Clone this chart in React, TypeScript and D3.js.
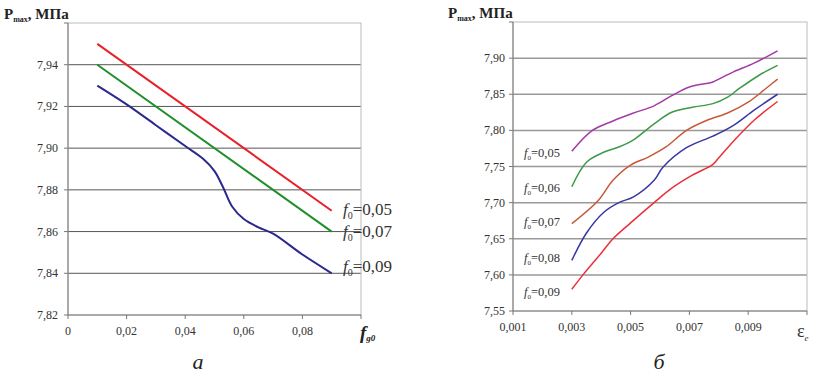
import React from "react";
import * as d3 from "d3";

// Left chart (a): Pmax vs f_g0
const leftXTicks = [0, 0.02, 0.04, 0.06, 0.08, 0.1];
const leftXTickLabels = ["0", "0,02", "0,04", "0,06", "0,08", ""];
const leftYTicks = [7.82, 7.84, 7.86, 7.88, 7.9, 7.92, 7.94, 7.96];
const leftYTickLabels = ["7,82", "7,84", "7,86", "7,88", "7,90", "7,92", "7,94", ""];
const leftRed: [number, number][] = [[0.01, 7.95], [0.09, 7.87]];
const leftGreen: [number, number][] = [[0.01, 7.94], [0.09, 7.86]];
const leftBlue: [number, number][] = [
  [0.01, 7.93], [0.02, 7.921], [0.03, 7.911], [0.04, 7.901], [0.046, 7.895],
  [0.05, 7.889], [0.053, 7.881], [0.056, 7.872], [0.06, 7.866], [0.065, 7.862],
  [0.07, 7.859], [0.08, 7.849], [0.09, 7.84],
];
const leftLabels = ["=0,05", "=0,07", "=0,09"];

// Right chart (б): Pmax vs ε_e
const rightXTicks = [0.001, 0.003, 0.005, 0.007, 0.009, 0.011];
const rightXTickLabels = ["0,001", "0,003", "0,005", "0,007", "0,009", ""];
const rightYTicks = [7.55, 7.6, 7.65, 7.7, 7.75, 7.8, 7.85, 7.9, 7.95];
const rightYTickLabels = ["7,55", "7,60", "7,65", "7,70", "7,75", "7,80", "7,85", "7,90", ""];
const rightPurple: [number, number][] = [
  [0.003, 7.771], [0.0037, 7.8], [0.0044, 7.813], [0.0051, 7.824], [0.0058, 7.834],
  [0.0064, 7.848], [0.007, 7.86], [0.0078, 7.867], [0.008, 7.871], [0.0085, 7.881],
  [0.0092, 7.893], [0.01, 7.91],
];
const rightGreen: [number, number][] = [
  [0.003, 7.722], [0.0035, 7.756], [0.0041, 7.77], [0.0046, 7.777], [0.0051, 7.787],
  [0.0058, 7.809], [0.0064, 7.825], [0.0071, 7.832], [0.0078, 7.837], [0.0083, 7.846],
  [0.0087, 7.858], [0.0094, 7.877], [0.01, 7.89],
];
const rightOrange: [number, number][] = [
  [0.003, 7.671], [0.0039, 7.703], [0.0044, 7.731], [0.005, 7.752], [0.0056, 7.763],
  [0.0062, 7.777], [0.0069, 7.8], [0.0076, 7.814], [0.0083, 7.824], [0.009, 7.839],
  [0.0096, 7.858], [0.01, 7.871],
];
const rightBlue: [number, number][] = [
  [0.003, 7.62], [0.0035, 7.658], [0.0041, 7.687], [0.0046, 7.7], [0.0051, 7.708],
  [0.0058, 7.731], [0.0061, 7.749], [0.0069, 7.776], [0.0078, 7.792], [0.0085, 7.807],
  [0.0092, 7.828], [0.01, 7.85],
];
const rightRed: [number, number][] = [
  [0.003, 7.58], [0.0034, 7.601], [0.004, 7.63], [0.0044, 7.65], [0.005, 7.672],
  [0.0058, 7.7], [0.0064, 7.72], [0.0071, 7.738], [0.0078, 7.753], [0.008, 7.762],
  [0.0085, 7.785], [0.0092, 7.814], [0.01, 7.84],
];
const rightLabels = ["=0,05", "=0,06", "=0,07", "=0,08", "=0,09"];

const serif = "'Times New Roman', 'Liberation Serif', Tinos, 'DejaVu Serif', serif";

export default function App() {
  const lx = d3.scaleLinear().domain([0, 0.1]).range([68, 361]);
  const ly = d3.scaleLinear().domain([7.82, 7.96]).range([315, 23]);
  const rx = d3.scaleLinear().domain([0.001, 0.011]).range([513, 807]);
  const ry = d3.scaleLinear().domain([7.55, 7.95]).range([311, 22]);

  const lLine = d3.line<[number, number]>().x((d) => lx(d[0])).y((d) => ly(d[1])).curve(d3.curveCatmullRom.alpha(0.5));
  const rLine = d3.line<[number, number]>().x((d) => rx(d[0])).y((d) => ry(d[1])).curve(d3.curveCatmullRom.alpha(0.5));

  const leftSeries = [
    { data: leftRed, color: "#e8202a" },
    { data: leftGreen, color: "#1f8f2a" },
    { data: leftBlue, color: "#2b2a8c" },
  ];
  const rightSeries = [
    { data: rightPurple, color: "#a23aa8" },
    { data: rightGreen, color: "#3c9a48" },
    { data: rightOrange, color: "#c8583a" },
    { data: rightBlue, color: "#3838a0" },
    { data: rightRed, color: "#e8303a" },
  ];
  const leftLabelY = [215, 237, 272];
  const rightLabelY = [157, 192, 226, 262, 296];

  return (
    <svg width={815} height={377} style={{ position: "absolute", left: 0, top: 0, background: "#fff" }}>
      {/* ---------- Left chart ---------- */}
      <g>
        {leftYTicks.slice(1, -1).map((t) => (
          <line key={t} x1={lx(0)} x2={lx(0.1)} y1={ly(t)} y2={ly(t)} stroke="#555" strokeWidth={1} />
        ))}
        <rect x={lx(0)} y={ly(7.96)} width={lx(0.1) - lx(0)} height={ly(7.82) - ly(7.96)} fill="none" stroke="#bbb" strokeWidth={1} />
        <line x1={lx(0)} x2={lx(0)} y1={ly(7.96)} y2={ly(7.82)} stroke="#777" />
        <line x1={lx(0)} x2={lx(0.1)} y1={ly(7.82)} y2={ly(7.82)} stroke="#777" />
        {leftYTicks.map((t) => (
          <line key={"yt" + t} x1={lx(0) - 4} x2={lx(0)} y1={ly(t)} y2={ly(t)} stroke="#777" />
        ))}
        {leftXTicks.map((t) => (
          <line key={"xt" + t} x1={lx(t)} x2={lx(t)} y1={ly(7.82)} y2={ly(7.82) + 4} stroke="#777" />
        ))}
        {leftYTicks.map((t, i) => (
          <text key={"yl" + t} x={lx(0) - 10} y={ly(t) + 4} textAnchor="end" fontFamily={serif} fontSize={12} fill="#333">
            {leftYTickLabels[i]}
          </text>
        ))}
        {leftXTicks.map((t, i) => (
          <text key={"xl" + t} x={lx(t)} y={ly(7.82) + 20} textAnchor="middle" fontFamily={serif} fontSize={12} fill="#333">
            {leftXTickLabels[i]}
          </text>
        ))}
        {leftSeries.map((s, i) => (
          <path key={"ls" + i} d={lLine(s.data) || ""} fill="none" stroke={s.color} strokeWidth={2} />
        ))}
        {leftLabels.map((l, i) => (
          <text key={"ll" + i} x={343} y={leftLabelY[i]} fontFamily={serif} fontSize={17} fill="#333">
            <tspan fontStyle="italic">f</tspan>
            <tspan fontSize={10} dy={4}>0</tspan>
            <tspan dy={-4}>{l}</tspan>
          </text>
        ))}
        <text x={4} y={19} fontFamily={serif} fontSize={15} fontWeight="bold" fill="#222">
          P<tspan fontSize={8} dy={3}>max</tspan>
          <tspan dy={-3}>, МПа</tspan>
        </text>
        <text x={360} y={339} fontFamily={serif} fontSize={19} fontWeight="bold" fontStyle="italic" fill="#222">
          f<tspan fontSize={9} dy={2}>g0</tspan>
        </text>
        <text x={198} y={369} textAnchor="middle" fontFamily={serif} fontSize={22} fontStyle="italic" fill="#222">
          а
        </text>
      </g>

      {/* ---------- Right chart ---------- */}
      <g>
        {rightYTicks.slice(1, -1).map((t) => (
          <line key={t} x1={rx(0.001)} x2={rx(0.011)} y1={ry(t)} y2={ry(t)} stroke="#999" strokeWidth={1.5} />
        ))}
        <rect x={rx(0.001)} y={ry(7.95)} width={rx(0.011) - rx(0.001)} height={ry(7.55) - ry(7.95)} fill="none" stroke="#bbb" strokeWidth={1} />
        <line x1={rx(0.001)} x2={rx(0.001)} y1={ry(7.95)} y2={ry(7.55)} stroke="#777" />
        <line x1={rx(0.001)} x2={rx(0.011)} y1={ry(7.55)} y2={ry(7.55)} stroke="#777" />
        {rightYTicks.map((t) => (
          <line key={"ryt" + t} x1={rx(0.001) - 4} x2={rx(0.001)} y1={ry(t)} y2={ry(t)} stroke="#777" />
        ))}
        {rightXTicks.map((t) => (
          <line key={"rxt" + t} x1={rx(t)} x2={rx(t)} y1={ry(7.55)} y2={ry(7.55) + 4} stroke="#777" />
        ))}
        {rightYTicks.map((t, i) => (
          <text key={"ryl" + t} x={rx(0.001) - 8} y={ry(t) + 4} textAnchor="end" fontFamily={serif} fontSize={12} fill="#333">
            {rightYTickLabels[i]}
          </text>
        ))}
        {rightXTicks.map((t, i) => (
          <text key={"rxl" + t} x={rx(t)} y={ry(7.55) + 20} textAnchor="middle" fontFamily={serif} fontSize={12} fill="#333">
            {rightXTickLabels[i]}
          </text>
        ))}
        {rightSeries.map((s, i) => (
          <path key={"rs" + i} d={rLine(s.data) || ""} fill="none" stroke={s.color} strokeWidth={1.5} />
        ))}
        {rightLabels.map((l, i) => (
          <text key={"rl" + i} x={524} y={rightLabelY[i]} fontFamily={serif} fontSize={12.5} fill="#333">
            <tspan fontStyle="italic">f</tspan>
            <tspan fontSize={7} dy={3}>0</tspan>
            <tspan dy={-3}>{l}</tspan>
          </text>
        ))}
        <text x={448} y={18} fontFamily={serif} fontSize={15} fontWeight="bold" fill="#222">
          P<tspan fontSize={8} dy={3}>max</tspan>
          <tspan dy={-3}>, МПа</tspan>
        </text>
        <text x={797} y={337} fontFamily={serif} fontSize={18} fill="#333">
          ε<tspan fontSize={9} dy={4} fontStyle="italic">e</tspan>
        </text>
        <text x={659} y={369} textAnchor="middle" fontFamily={serif} fontSize={22} fontStyle="italic" fill="#222">
          б
        </text>
      </g>
    </svg>
  );
}
